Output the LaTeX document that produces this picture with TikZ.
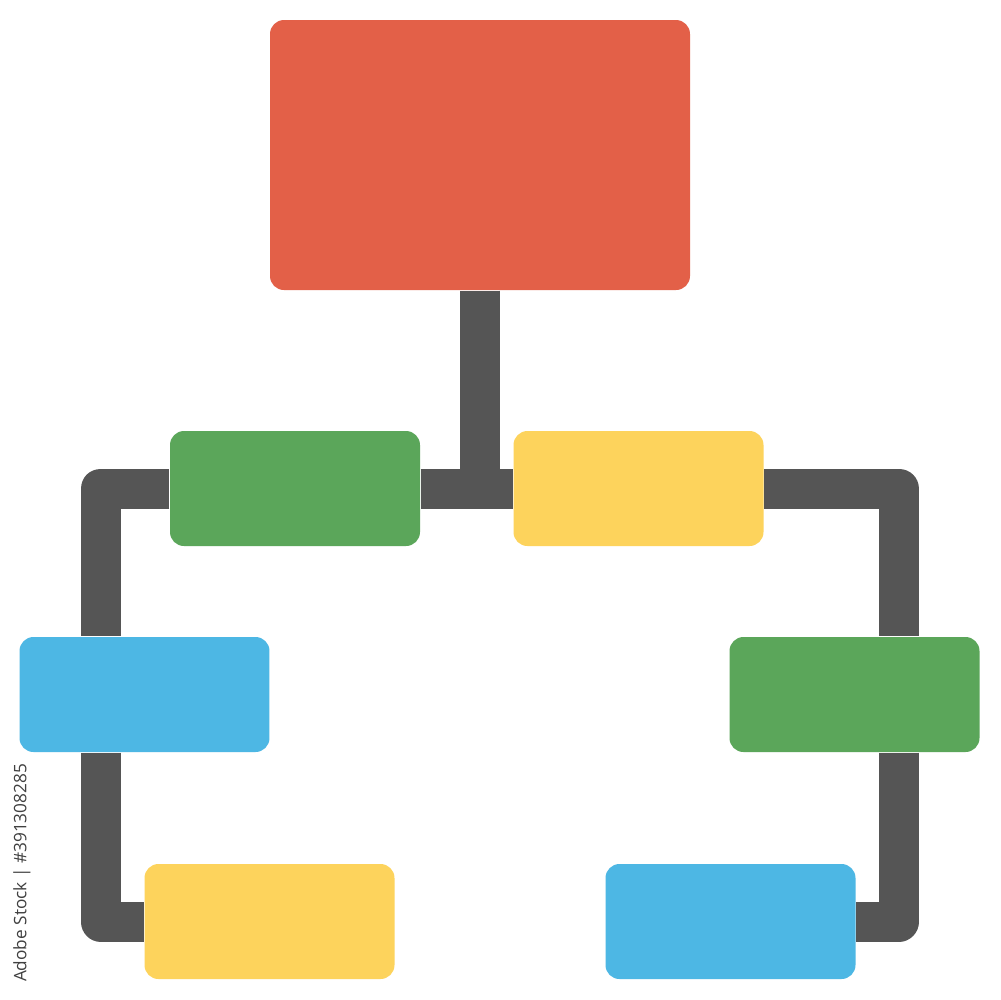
\documentclass[tikz,border=0pt]{standalone}
\usepackage{fontspec}
\usepackage{xcolor}
\newfontfamily\idfont{Open Sans}
\definecolor{chartred}{RGB}{227,96,72}
\definecolor{chartgreen}{RGB}{91,166,90}
\definecolor{chartyellow}{RGB}{253,211,92}
\definecolor{chartblue}{RGB}{77,183,228}
\definecolor{linkgray}{RGB}{85,85,85}
\begin{document}
\begin{tikzpicture}[x=0.1mm,y=-0.1mm,
  box/.style={rectangle,rounded corners=1.4mm,inner sep=0pt,draw=none,minimum width=25mm,minimum height=11.5mm},
  link/.style={draw=linkgray,line width=4mm,line join=round}]
\fill[white] (0,0) rectangle (1000,1000);
\useasboundingbox (0,0) rectangle (1000,1000);

\node[box,fill=chartred,minimum width=42mm,minimum height=27mm] (top) at (480,155) {};
\node[box,fill=chartgreen] (g1) at (295,488.5) {};
\node[box,fill=chartyellow] (y1) at (638.5,488.5) {};
\node[box,fill=chartblue] (b1) at (144.5,694.5) {};
\node[box,fill=chartgreen] (g2) at (854.5,694.5) {};
\node[box,fill=chartyellow] (y2) at (269.5,921.5) {};
\node[box,fill=chartblue] (b2) at (730.5,921.5) {};

% corners of the frame
\coordinate (tl) at (100.5,488.5);
\coordinate (tr) at (899,488.5);
\coordinate (bl) at (100.5,921.5);
\coordinate (br) at (899,921.5);

\draw[link] (top.south) -- (top.south |- tl);
\draw[link] (g1.east) -- (y1.west);
\draw[link] (g1.west) -- (tl) -- (tl |- b1.north);
\draw[link] (b1.south -| bl) -- (bl) -- (y2.west);
\draw[link] (y1.east) -- (tr) -- (tr |- g2.north);
\draw[link] (g2.south -| br) -- (br) -- (b2.east);

\node[rotate=90,text=black!75,font=\idfont\fontsize{4.9}{6}\selectfont,inner sep=0pt] (stockid) at (22,873) {Adobe Stock | \#391308285};
\end{tikzpicture}
\end{document}
